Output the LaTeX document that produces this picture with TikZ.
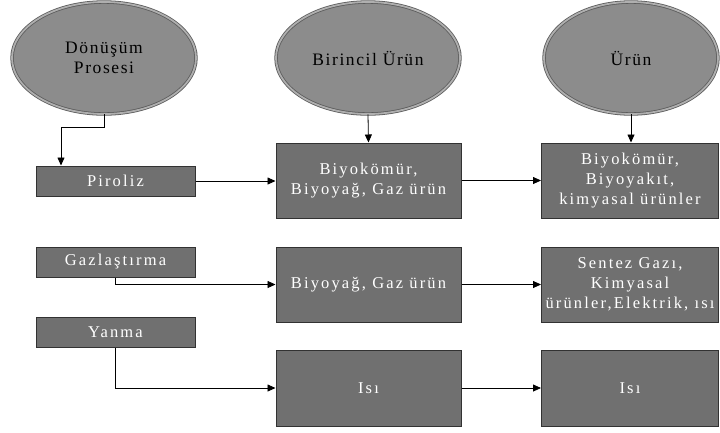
\documentclass[tikz,border=0pt]{standalone}
\usepackage{fontspec}
\setmainfont{Liberation Serif}
\newfontfamily\boxfont[LetterSpace=13]{Liberation Serif}
\newfontfamily\ellfont[LetterSpace=9]{Liberation Serif}
\usetikzlibrary{shapes.geometric,arrows.meta,calc}
\definecolor{boxfill}{RGB}{112,112,112}
\definecolor{ellfill}{RGB}{140,140,140}
\definecolor{ellring}{RGB}{175,175,175}
\definecolor{edgec}{RGB}{50,50,50}
\tikzset{
  ellnode/.style={ellipse, fill=ellfill, draw=edgec!80, double=ellring, double distance=1.8pt, line width=0.8pt,
    minimum width=184pt, minimum height=112pt, inner sep=0pt, align=center,
    font=\ellfont\fontsize{17.5}{20}\selectfont, text=black},
  procbox/.style={rectangle, fill=boxfill, draw=edgec, line width=1pt, inner sep=0pt,
    minimum width=159pt, minimum height=30pt, align=center,
    font=\boxfont\fontsize{16.5}{20}\selectfont, text=white},
  prodbox/.style={procbox, minimum height=75pt},
  arr/.style={draw=black, line width=0.8pt, -{Triangle[length=8pt,width=7pt]}}
}
\begin{document}
\begin{tikzpicture}[x=1pt,y=-1pt]
\useasboundingbox (0,0) rectangle (720,432);
% ellipses
\node[ellnode] (e1) at (104,58) {Dönüşüm\\Prosesi};
\node[ellnode] (e2) at (368,58) {Birincil Ürün};
\node[ellnode, minimum width=174pt] (e3) at (631,58) {Ürün};
% process boxes
\node[procbox] (p) at (115.5,181) {Piroliz};
\node[procbox] (g) at (115.5,262) {Gazlaştırma};
\node[procbox] (y) at (115.5,332) {Yanma};
% primary product boxes
\node[prodbox, minimum width=185pt] (b1) at (368.5,180.5) {Biyokömür,\\Biyoyağ, Gaz ürün};
\node[prodbox, minimum width=185pt] (b2) at (368.5,284.5) {Biyoyağ, Gaz ürün};
\node[prodbox, minimum width=185pt, minimum height=76pt] (b3) at (368.5,388) {Isı};
% product boxes
\node[prodbox, minimum width=177pt] (r1) at (630,180.5) {Biyokömür,\\Biyoyakıt,\\kimyasal ürünler};
\node[prodbox, minimum width=177pt] (r2) at (630,284.5) {Sentez Gazı,\\Kimyasal\\ürünler,Elektrik, ısı};
\node[prodbox, minimum width=177pt, minimum height=76pt] (r3) at (630,388) {Isı};
% connectors
\coordinate (c1) at (61,127);
\draw[arr] (e1.south) |- (c1) -- (c1 |- p.north);
\draw[arr] (e2.south) -- (b1.north);
\draw[arr] (e3.south) -- (e3.south |- r1.north);
\draw[arr] (p.east) -- (p.east -| b1.west);
\draw[arr] (b1.east) -- (r1.west);
\draw[arr] (g.south) |- (b2.west);
\draw[arr] (b2.east) -- (r2.west);
\draw[arr] (y.south) |- (b3.west);
\draw[arr] (b3.east) -- (r3.west);
\end{tikzpicture}
\end{document}
